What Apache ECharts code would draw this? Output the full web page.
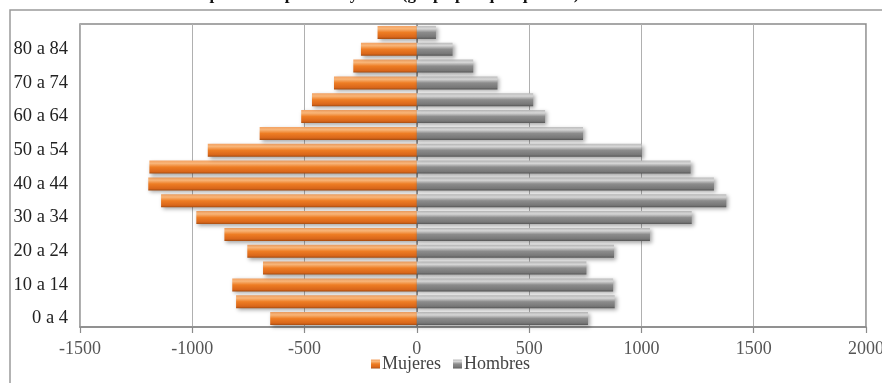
<!DOCTYPE html>
<html>
<head>
<meta charset="utf-8">
<script src="https://cdn.jsdelivr.net/npm/echarts@6/dist/echarts.min.js"></script>
<style>html,body{margin:0;padding:0;background:#fff}#c{width:882px;height:383px}</style>
</head>
<body>
<div id="c"></div>
<script>
var categories = ["0 a 4","5 a 9","10 a 14","15 a 19","20 a 24","25 a 29","30 a 34","35 a 39","40 a 44","45 a 49","50 a 54","55 a 59","60 a 64","65 a 69","70 a 74","75 a 79","80 a 84","85 y más"];
var mujeres = [653,805,822,685,755,857,982,1139,1196,1191,931,700,515,467,369,283,249,175];
var hombres = [762,881,874,755,878,1038,1224,1378,1323,1219,1001,740,571,518,359,251,159,85];
var xTicks = {min:-1500, max:2000, interval:500};
var titleText = "Pirámide de población por sexo y edad (grupo por quinquenios)";

var serif = "Liberation Serif";
var orange = new echarts.graphic.LinearGradient(0,0,0,1,[
  {offset:0,color:'#F3A263'},{offset:0.22,color:'#F8B578'},{offset:0.5,color:'#EE7D24'},
  {offset:0.85,color:'#D9661A'},{offset:1,color:'#A34C12'}]);
var grey = new echarts.graphic.LinearGradient(0,0,0,1,[
  {offset:0,color:'#BDBDBD'},{offset:0.22,color:'#D6D6D6'},{offset:0.5,color:'#8C8C8C'},
  {offset:0.85,color:'#777777'},{offset:1,color:'#555555'}]);

var chart = echarts.init(document.getElementById('c'), null, {renderer:'canvas'});
chart.setOption({
  animation:false,
  backgroundColor:'#fff',
  title:{text:titleText, left:112, top:-19,
    textStyle:{fontFamily:serif, fontWeight:'bold', fontSize:17, color:'#111'}},
  graphic:[{type:'rect', shape:{x:10,y:10,width:900,height:420},
    style:{fill:'none', stroke:'#9a9a9a', lineWidth:1.5}, z:-1}],
  grid:{left:80, right:16, top:24, bottom:56, outerBoundsMode:'none', containLabel:false,
    show:true, borderColor:'#8a8a8a', borderWidth:1.5, backgroundColor:'transparent'},
  legend:{left:366, top:350, itemWidth:9, itemHeight:9, itemGap:12,
    icon:'rect',
    textStyle:{fontFamily:serif, fontSize:18, color:'#444', padding:[0,0,0,-3]},
    data:['Mujeres','Hombres']},
  xAxis:{type:'value', min:xTicks.min, max:xTicks.max, interval:xTicks.interval,
    axisLine:{show:true, onZero:false, lineStyle:{color:'#8a8a8a', width:1.5}},
    axisTick:{show:true, length:6, lineStyle:{color:'#8a8a8a', width:1.2}},
    axisLabel:{fontFamily:serif, fontSize:18, color:'#555', margin:13,
      formatter:function(v){return String(v);}},
    splitLine:{show:true, lineStyle:{color:'#b0b0b0', width:1}}},
  yAxis:{type:'category', data:categories,
    axisLine:{show:true, lineStyle:{color:'#8a8a8a', width:1.5}},
    axisTick:{show:false},
    axisLabel:{interval:1, fontFamily:serif, fontSize:18.5, color:'#222', margin:12}},
  series:[
    {name:'Mujeres', type:'bar', stack:'p', barWidth:13,
     data:mujeres.map(function(v){return -v;}),
     itemStyle:{color:orange, shadowBlur:4, shadowOffsetX:2, shadowOffsetY:2, shadowColor:'rgba(0,0,0,0.35)'}},
    {name:'Hombres', type:'bar', stack:'p', barWidth:13,
     data:hombres,
     itemStyle:{color:grey, shadowBlur:4, shadowOffsetX:2, shadowOffsetY:2, shadowColor:'rgba(0,0,0,0.35)'}}
  ]
});
</script>
</body>
</html>
